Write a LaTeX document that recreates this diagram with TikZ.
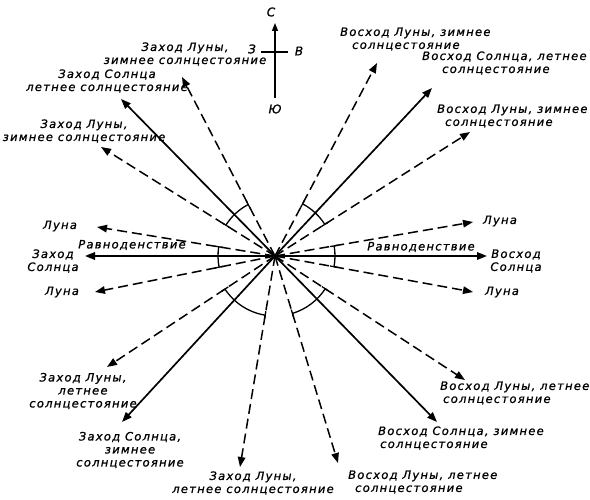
\documentclass[tikz,border=0pt]{standalone}
\usepackage{fontspec}
\setmainfont{DejaVu Sans}[LetterSpace=11,FakeBold=1]
\usetikzlibrary{arrows.meta}
\begin{document}
\begin{tikzpicture}[x=1pt,y=-1pt,
  tip/.style={-{Triangle[length=10pt,width=7.5pt]}},
  sol/.style={line width=1.7pt,tip},
  dsh/.style={line width=1.5pt,dash pattern=on 10pt off 5pt,tip},
  lbl/.style={font=\fontsize{11.5}{13}\selectfont\itshape,align=center,inner sep=0pt},
  rl/.style={lbl,align=left,anchor=west},
  cl/.style={font=\fontsize{12}{13}\selectfont\itshape,inner sep=0pt},
  mk/.style={line width=1.3pt}]
\useasboundingbox (0,0) rectangle (590,500);
\coordinate (C) at (275,256);
% arrow tips
\coordinate (tA) at (182,77);
\coordinate (tB) at (121,99);
\coordinate (tC) at (101,147);
\coordinate (tD) at (97,227);
\coordinate (tE) at (85,256);
\coordinate (tF) at (95,292);
\coordinate (tG) at (107,367);
\coordinate (tH) at (122,422);
\coordinate (tI) at (240,467);
\coordinate (tJ) at (338,463);
\coordinate (tK) at (437,422);
\coordinate (tL) at (465,380);
\coordinate (tM) at (473,292);
\coordinate (tN) at (487,256);
\coordinate (tO) at (473,222);
\coordinate (tP) at (470,132);
\coordinate (tQ) at (432,88);
\coordinate (tR) at (377,63);
% rays
\foreach \t in {tA,tC,tD,tF,tG,tI,tJ,tL,tM,tO,tP,tR}
  \draw[dsh] (C) -- (\t);
\foreach \t in {tB,tE,tH,tK,tN,tQ}
  \draw[sol] (C) -- (\t);
% angle marks (angles negated because y axis points down)
\foreach \a/\b/\r/\ri in {-117.5/-147.9/58/54, -170.7/-191.3/57/53, -213.5/-260.6/60/56,
                        -286.9/-326.9/60/56, -349.7/-369.7/60/56, -32.4/-62.1/59/55}{
  \draw[mk] (C) ++(\a:\r) arc[start angle=\a,end angle=\b,radius=\r];
  \draw[mk] (C) ++(\a:\ri) -- ++(\a:8);
  \draw[mk] (C) ++(\b:\ri) -- ++(\b:8);
}
% compass
\coordinate (Sb) at (275,98);
\coordinate (Nt) at (275,23);
\coordinate (Wl) at (261,52);
\coordinate (Er) at (288,52);
\draw[line width=1.4pt,-{Triangle[length=8pt,width=6pt]}] (Sb) -- (Nt);
\draw[line width=1.2pt] (Wl) -- (Er);
\node[cl] (cN) at (271,12) {С};
\node[cl] (cW) at (252,49) {З};
\node[cl] (cE) at (299,51) {В};
\node[cl] (cS) at (275,109) {Ю};
% left labels
\node[lbl] (l1) at (185,54) {Заход Луны,\\зимнее солнцестояние};
\node[lbl] (l2) at (107,81) {Заход Солнца\\летнее солнцестояние};
\node[lbl] (l3) at (84,131) {Заход Луны,\\зимнее солнцестояние};
\node[lbl] (l4) at (60,226) {Луна};
\node[lbl] (l5) at (53,261) {Заход\\Солнца};
\node[lbl] (l6) at (62,292) {Луна};
\node[lbl] (l7) at (132,245) {Равноденствие};
\node[lbl] (l8) at (83,391) {Заход Луны,\\летнее\\солнцестояние};
\node[lbl] (l9) at (130,450) {Заход Солнца,\\зимнее\\солнцестояние};
\node[lbl] (l10) at (253,483) {Заход Луны,\\летнее солнцестояние};
% right labels
\node[rl] (r1) at (340,39) {Восход Луны, зимнее\\\hspace*{12pt}солнцестояние};
\node[rl] (r2) at (422,63) {Восход Солнца, летнее\\\hspace*{20pt}солнцестояние};
\node[rl] (r3) at (437,116) {Восход Луны, зимнее\\\hspace*{8pt}солнцестояние};
\node[lbl] (r4) at (500,221) {Луна};
\node[lbl] (r5) at (516,261) {Восход\\Солнца};
\node[lbl] (r6) at (502,292) {Луна};
\node[lbl] (r7) at (421,247) {Равноденствие};
\node[rl] (r8) at (440,393) {Восход Луны, летнее\\\hspace*{3pt}солнцестояние};
\node[rl] (r9) at (378,438) {Восход Солнца, зимнее\\\hspace*{2pt}солнцестояние};
\node[rl] (r10) at (348,482) {Восход Луны, летнее\\\hspace*{7pt}солнцестояние};
\end{tikzpicture}
\end{document}
